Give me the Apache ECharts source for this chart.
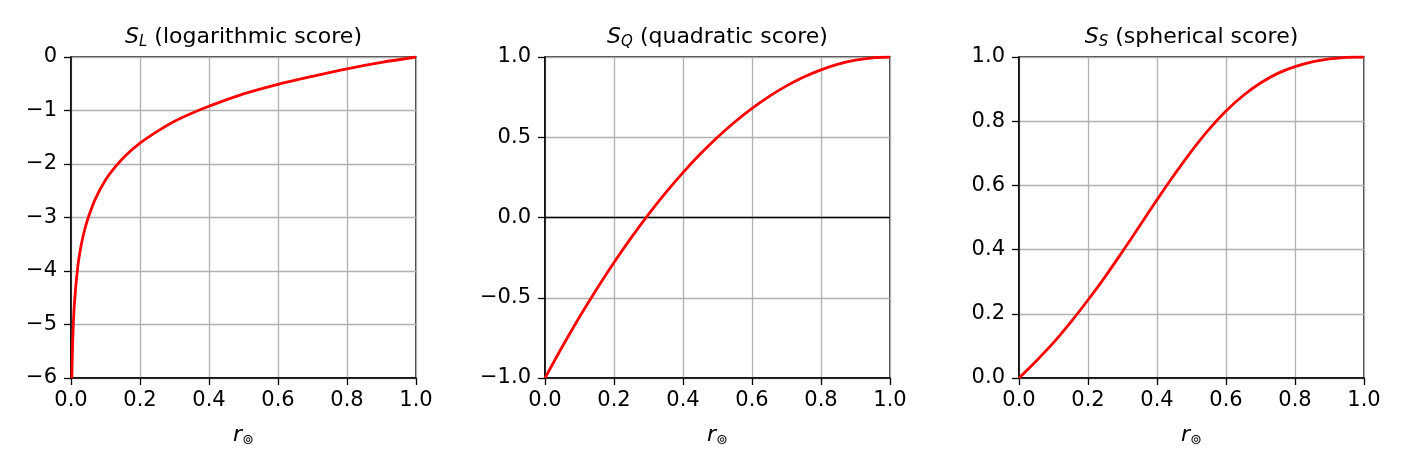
<!DOCTYPE html>
<html>
<head>
<meta charset="utf-8">
<script src="https://cdn.jsdelivr.net/npm/echarts@6/dist/echarts.min.js"></script>
<style>
    html, body { margin: 0; padding: 0; background: #fff; }
    #chart { width: 1412px; height: 471px; }
</style>
</head>
<body>
<div id="chart"></div>
<script>
    // values
    const logX = [0.0025, 0.005, 0.01, 0.02, 0.03, 0.04, 0.05, 0.07, 0.1, 0.13, 0.16, 0.2, 0.25, 0.3, 0.35, 0.4, 0.5, 0.6, 0.7, 0.8, 0.9, 1.0];
    const logY = [-6.0, -5.3, -4.6, -3.9, -3.5, -3.22, -3.0, -2.66, -2.3, -2.04, -1.83, -1.61, -1.39, -1.2, -1.05, -0.92, -0.69, -0.51, -0.36, -0.22, -0.1, 0];

    const quadX = [0, 0.05, 0.1, 0.15, 0.2, 0.25, 0.3, 0.35, 0.4, 0.45, 0.5, 0.55, 0.6, 0.65, 0.7, 0.75, 0.8, 0.85, 0.9, 0.95, 1.0];
    const quadY = [-1, -0.805, -0.62, -0.445, -0.28, -0.125, 0.02, 0.155, 0.28, 0.395, 0.5, 0.595, 0.68, 0.755, 0.82, 0.875, 0.92, 0.955, 0.98, 0.995, 1.0];

    const sphX = [0, 0.05, 0.1, 0.15, 0.2, 0.25, 0.3, 0.35, 0.4, 0.45, 0.5, 0.55, 0.6, 0.65, 0.7, 0.75, 0.8, 0.85, 0.9, 0.95, 1.0];
    const sphY = [0, 0.053, 0.11, 0.174, 0.243, 0.316, 0.394, 0.474, 0.555, 0.633, 0.707, 0.774, 0.832, 0.88, 0.919, 0.949, 0.97, 0.985, 0.994, 0.999, 1.0];

    const titles = [['L', 'logarithmic score'], ['Q', 'quadratic score'], ['S', 'spherical score']];
    const yRanges = [[-6, 0, 1], [-1, 1, 0.5], [0, 1, 0.2]];

    const font = 'DejaVu Sans';
    const lefts = [71, 545, 1019];
    const plotW = 345;

    const minus = s => s.replace('-', '\u2212');
    const yFormat = [
        v => minus(String(v)),
        v => minus(v.toFixed(1)),
        v => v.toFixed(1)
    ];

    const pairs = (xs, ys) => xs.map((x, i) => [x, ys[i]]);
    const seriesData = [pairs(logX, logY), pairs(quadX, quadY), pairs(sphX, sphY)];

    let option = {
        animation: false,
        backgroundColor: '#fff',
        title: [],
        grid: [],
        xAxis: [],
        yAxis: [],
        series: []
    };

    lefts.forEach((left, i) => {
        option.title.push({
            text: '{i|S}{sub|' + titles[i][0] + '} (' + titles[i][1] + ')',
            left: left + plotW / 2 - 5,
            textAlign: 'center',
            top: 19,
            textStyle: {
                fontFamily: font,
                fontSize: 22,
                fontWeight: 'normal',
                color: '#000',
                rich: {
                    i: {fontFamily: font, fontSize: 22, fontStyle: 'italic', color: '#000', lineHeight: 26},
                    sub: {fontFamily: font, fontSize: 15, fontStyle: 'italic', color: '#000', lineHeight: 14, verticalAlign: 'bottom'}
                }
            }
        });
        option.grid.push({
            left: left,
            top: 57,
            width: plotW,
            height: 321,
            show: true,
            borderColor: '#000',
            borderWidth: 1.5,
            backgroundColor: 'transparent'
        });
        option.xAxis.push({
            type: 'value',
            gridIndex: i,
            min: 0,
            max: 1,
            interval: 0.2,
            name: '{i|r}{sub|\u229A}',
            nameLocation: 'middle',
            nameGap: 45,
            nameTextStyle: {
                rich: {
                    i: {fontFamily: font, fontSize: 22, fontStyle: 'italic', color: '#000', lineHeight: 24},
                    sub: {fontFamily: font, fontSize: 14, color: '#000', lineHeight: 14, verticalAlign: 'bottom'}
                }
            },
            axisLine: {show: true, onZero: false, lineStyle: {color: '#000', width: 1.5}},
            axisTick: {show: true, inside: false, length: 7, lineStyle: {color: '#000', width: 1.3}},
            axisLabel: {
                fontFamily: font, fontSize: 21, color: '#000', margin: 12,
                formatter: v => v.toFixed(1)
            },
            splitLine: {show: true, lineStyle: {color: '#b0b0b0', width: 1.3}}
        });
        option.yAxis.push({
            type: 'value',
            gridIndex: i,
            min: yRanges[i][0],
            max: yRanges[i][1],
            interval: yRanges[i][2],
            axisLine: {show: true, onZero: false, lineStyle: {color: '#000', width: 1.5}},
            axisTick: {show: true, inside: false, length: 7, lineStyle: {color: '#000', width: 1.3}},
            axisLabel: {
                fontFamily: font, fontSize: 21, color: '#000', margin: 14,
                formatter: yFormat[i]
            },
            splitLine: {show: true, lineStyle: {color: '#b0b0b0', width: 1.3}}
        });
        let s = {
            type: 'line',
            xAxisIndex: i,
            yAxisIndex: i,
            data: seriesData[i],
            showSymbol: false,
            smooth: 0.3,
            clip: true,
            lineStyle: {color: '#ff0000', width: 2.8},
            z: 5
        };
        if (i === 1) {
            s.markLine = {
                silent: true,
                symbol: 'none',
                label: {show: false},
                lineStyle: {color: '#000', width: 1.3, type: 'solid'},
                data: [{yAxis: 0}],
                z: 3
            };
        }
        option.series.push(s);
    });

    echarts.init(document.getElementById('chart'), null, {renderer: 'canvas'}).setOption(option);
</script>
</body>
</html>
